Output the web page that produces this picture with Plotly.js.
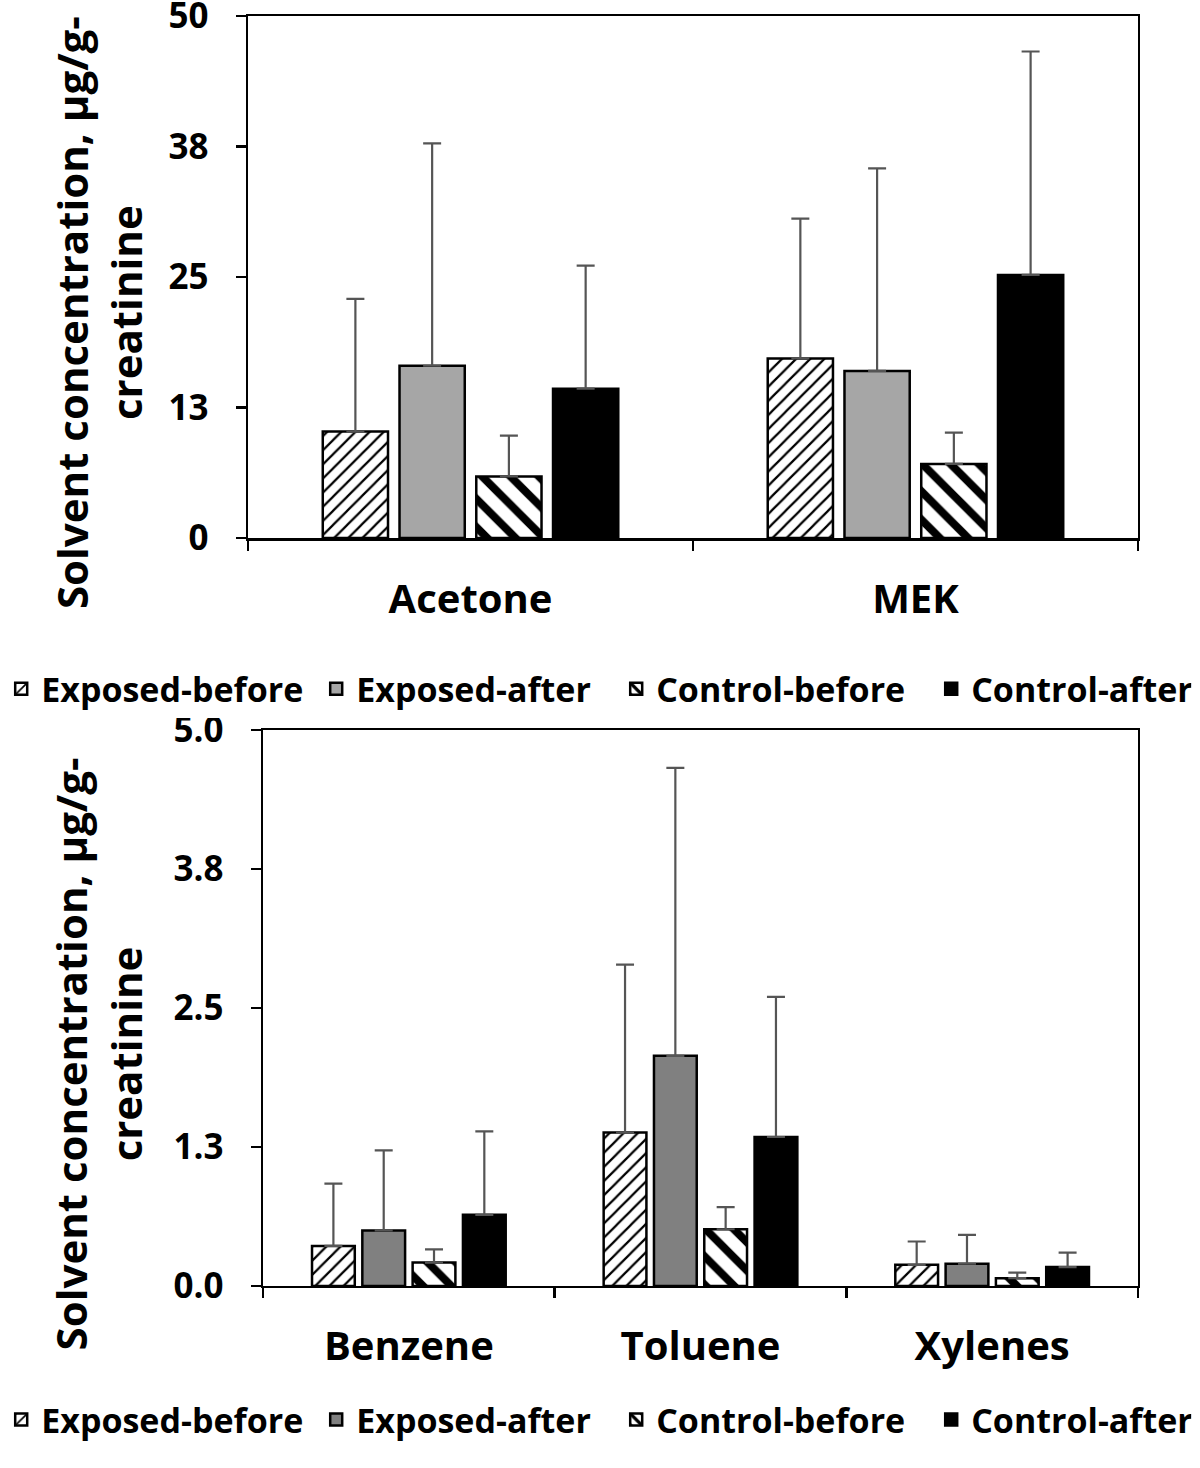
<!DOCTYPE html>
<html>
<head>
<meta charset="utf-8">
<script src="https://cdn.plot.ly/plotly-3.0.1.min.js"></script>
<style>body{margin:0;background:#fff}</style>
</head>
<body>
<div id="plot" style="width:1200px;height:1468px"></div>
<script>
// top panel data
var catsTop = ["Acetone", "MEK"];
var expBeforeTop = [10.2, 17.2];
var expBeforeTopErr = [12.7, 13.4];
var expAfterTop = [16.5, 16.0];
var expAfterTopErr = [21.3, 19.4];
var ctlBeforeTop = [5.9, 7.1];
var ctlBeforeTopErr = [3.9, 3.0];
var ctlAfterTop = [14.3, 25.2];
var ctlAfterTopErr = [11.8, 21.4];

// bottom panel data
var catsBot = ["Benzene", "Toluene", "Xylenes"];
var expBeforeBot = [0.36, 1.38, 0.19];
var expBeforeBotErr = [0.56, 1.51, 0.21];
var expAfterBot = [0.50, 2.07, 0.20];
var expAfterBotErr = [0.72, 2.59, 0.26];
var ctlBeforeBot = [0.21, 0.51, 0.07];
var ctlBeforeBotErr = [0.12, 0.20, 0.05];
var ctlAfterBot = [0.64, 1.34, 0.17];
var ctlAfterBotErr = [0.75, 1.26, 0.13];

var names = ["Exposed-before", "Exposed-after", "Control-before", "Control-after"];
var legendWidths = [270, 255, 270, 215];

var fam = "Open Sans, Liberation Sans, sans-serif";
var font = {family: fam, color: "#000", weight: 700};

function makeBar(i, cats, vals, errs, xa, ya, legend, style) {
  return {
    type: "bar",
    name: names[i],
    legendwidth: legendWidths[i],
    x: cats,
    y: vals,
    xaxis: xa,
    yaxis: ya,
    legend: legend,
    marker: {
      color: style.color,
      line: {color: "#000", width: 2.5},
      pattern: style.pattern
    },
    error_y: {type: "data", array: errs, symmetric: false, arrayminus: cats.map(c => 0),
              color: "#555", thickness: 2.2, width: 9}
  };
}

var styles = function (afterGray) {
  return [
    {color: "#fff", pattern: {shape: "/", size: 10, solidity: 0.22, fgcolor: "#000", bgcolor: "#fff"}},
    {color: afterGray, pattern: {shape: ""}},
    {color: "#fff", pattern: {shape: "\\", size: 20, solidity: 0.4, fgcolor: "#000", bgcolor: "#fff"}},
    {color: "#000", pattern: {shape: ""}}
  ];
};

var topSt = styles("#a6a6a6");
var botSt = styles("#808080");

var data = [
  makeBar(0, catsTop, expBeforeTop, expBeforeTopErr, "x", "y", "legend", topSt[0]),
  makeBar(1, catsTop, expAfterTop, expAfterTopErr, "x", "y", "legend", topSt[1]),
  makeBar(2, catsTop, ctlBeforeTop, ctlBeforeTopErr, "x", "y", "legend", topSt[2]),
  makeBar(3, catsTop, ctlAfterTop, ctlAfterTopErr, "x", "y", "legend", topSt[3]),
  makeBar(0, catsBot, expBeforeBot, expBeforeBotErr, "x2", "y2", "legend2", botSt[0]),
  makeBar(1, catsBot, expAfterBot, expAfterBotErr, "x2", "y2", "legend2", botSt[1]),
  makeBar(2, catsBot, ctlBeforeBot, ctlBeforeBotErr, "x2", "y2", "legend2", botSt[2]),
  makeBar(3, catsBot, ctlAfterBot, ctlAfterBotErr, "x2", "y2", "legend2", botSt[3])
];

var axisBase = {
  showline: true, linecolor: "#000", linewidth: 2.5, mirror: true,
  showgrid: false, zeroline: false, ticks: "outside", ticklen: 10, tickwidth: 2.5, tickcolor: "#000",
  ticklabeloverflow: "allow"
};

// y titles sit a little below the axis centre in the original, so they are annotations
var yTitle = "Solvent concentration, µg/g-<br>creatinine";
var titleFont = {size: 42, family: fam, weight: 700, color: "#000"};

var legendBase = {orientation: "h", x: 0.001, xanchor: "left", yanchor: "middle",
                  font: {size: 34, family: fam, weight: 700}, itemwidth: 30, traceorder: "normal"};

var layout = {
  width: 1200, height: 1468,
  margin: {l: 0, r: 0, t: 0, b: 0},
  paper_bgcolor: "#fff", plot_bgcolor: "#fff",
  font: font,
  barmode: "group",
  bargap: 0.31, bargroupgap: 0.15,
  xaxis: Object.assign({}, axisBase, {
    domain: [0.2067, 0.9483], anchor: "y", tickson: "boundaries",
    tickfont: {size: 40, family: fam, weight: 700}, ticklabelstandoff: 24
  }),
  yaxis: Object.assign({}, axisBase, {
    domain: [0.6335, 0.9891], anchor: "x", range: [0, 50],
    tickvals: [0, 12.5, 25, 37.5, 50], ticktext: ["0", "13", "25", "38", "50"],
    tickfont: {size: 35, family: fam, weight: 700}, ticklabelstandoff: 20
  }),
  xaxis2: Object.assign({}, axisBase, {
    domain: [0.2192, 0.9483], anchor: "y2", tickson: "boundaries",
    tickfont: {size: 40, family: fam, weight: 700}, ticklabelstandoff: 24
  }),
  yaxis2: Object.assign({}, axisBase, {
    domain: [0.1240, 0.5027], anchor: "x2", range: [0, 5],
    tickvals: [0, 1.25, 2.5, 3.75, 5], ticktext: ["0.0", "1.3", "2.5", "3.8", "5.0"],
    tickfont: {size: 35, family: fam, weight: 700}, ticklabelstandoff: 20
  }),
  legend: Object.assign({}, legendBase, {y: 0.5305}),
  legend2: Object.assign({}, legendBase, {y: 0.0327}),
  annotations: [
    {text: yTitle, xref: "paper", yref: "paper", x: 0.082, y: 0.787, xanchor: "center", yanchor: "middle",
     textangle: -90, showarrow: false, font: titleFont},
    {text: yTitle, xref: "paper", yref: "paper", x: 0.082, y: 0.282, xanchor: "center", yanchor: "middle",
     textangle: -90, showarrow: false, font: titleFont}
  ]
};

Plotly.newPlot("plot", data, layout, {staticPlot: true});
</script>
</body>
</html>
